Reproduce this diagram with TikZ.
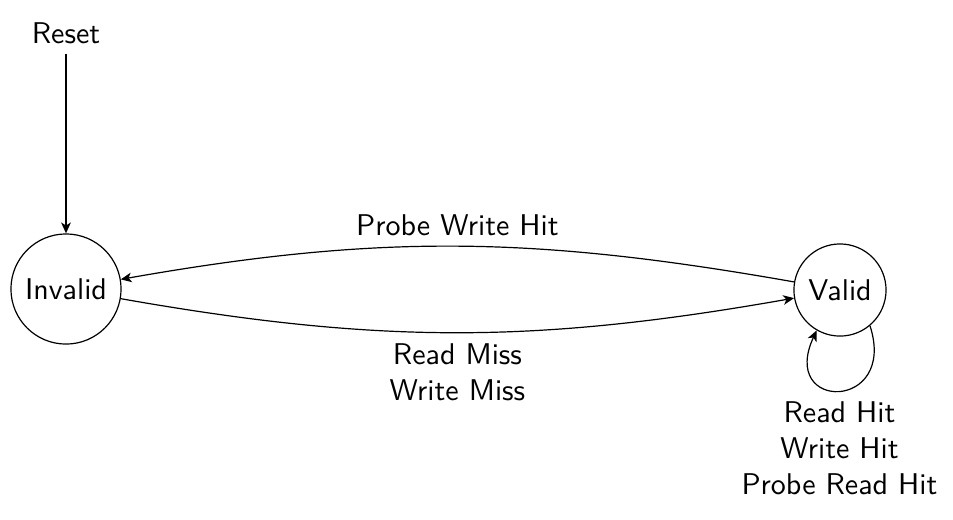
\documentclass[tikz,border=0pt]{standalone}
\usetikzlibrary{arrows.meta}
\begin{document}
\begin{tikzpicture}[x=0.3333pt,y=-0.3333pt,font=\sffamily,
  state/.style={circle,draw,inner sep=0pt},
  arr/.style={-{Stealth[length=3.6pt,width=3.2pt,inset=1pt]}},
  lbl/.style={align=center}]
\useasboundingbox (0,0) rectangle (953,519);
\node[state,minimum size=36.7pt] (I) at (66,289) {Invalid};
\node[state,minimum size=30.7pt] (V) at (840,290) {Valid};
\node (R) at (66,33) {Reset};
\draw[arr,semithick] (R) -- (I);
\draw[arr] (I) to[out=-10,in=190] node[midway,below,lbl] {Read Miss\\Write Miss} (V);
\draw[arr] (V) to[out=170,in=10] node[midway,above] {Probe Write Hit} (I);
\draw[arr] (V.-50) .. controls +(72:90) and +(115:90) .. node[pos=0.5,below,lbl] {Read Hit\\Write Hit\\Probe Read Hit} (V.-120);
\end{tikzpicture}
\end{document}
